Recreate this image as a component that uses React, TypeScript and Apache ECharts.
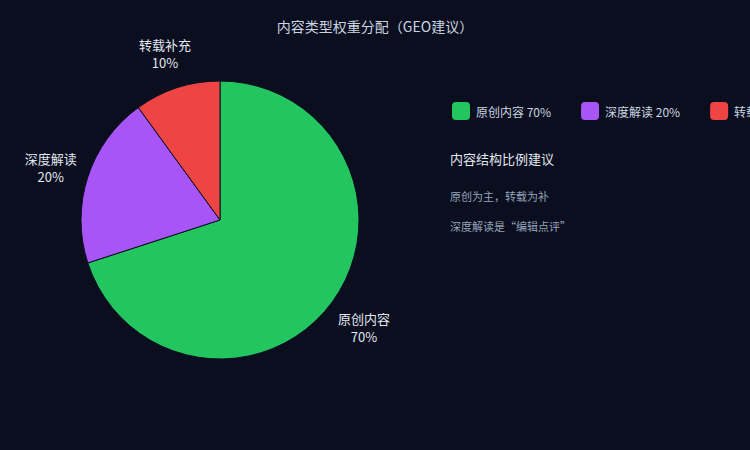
import { useEffect, useRef } from "react";
import * as echarts from "echarts";

const categories = ["原创内容", "深度解读", "转载补充"];
const weights = [70, 20, 10];
const colors = ["#22c55e", "#a855f7", "#ef4444"];
const notes = ["原创为主，转载为补", "深度解读是“编辑点评”"];

const BG = "#0a0e1f";
const FONT = "'Noto Sans CJK SC', 'Noto Sans', sans-serif";
const CX = 220;
const CY = 220;
const RADIUS = 139;
const LABEL_R = 178;

// centre of each slice's label, from the cumulative weights (clockwise from 12 o'clock)
function labelPos(index: number) {
  const total = weights.reduce((a, b) => a + b, 0);
  const before = weights.slice(0, index).reduce((a, b) => a + b, 0);
  const mid = ((before + weights[index] / 2) / total) * Math.PI * 2;
  return {
    x: CX + LABEL_R * Math.sin(mid),
    y: CY - LABEL_R * Math.cos(mid) + 3,
  };
}

export default function App() {
  const ref = useRef<HTMLDivElement>(null);

  useEffect(() => {
    if (!ref.current) return;
    const chart = echarts.init(ref.current, undefined, { renderer: "svg" });

    chart.setOption({
      animation: false,
      backgroundColor: BG,
      textStyle: { fontFamily: FONT },
      title: {
        text: "内容类型权重分配（GEO建议）",
        left: "center",
        top: 14,
        textStyle: { color: "#cbd5e1", fontSize: 14, fontWeight: "normal", fontFamily: FONT },
      },
      legend: {
        left: 450,
        top: 100,
        width: 600,
        padding: 0,
        icon: "roundRect",
        itemWidth: 20,
        itemHeight: 20,
        itemGap: 28,
        textStyle: { color: "#cbd5e1", fontSize: 12, fontFamily: FONT },
        formatter: (name: string) => {
          const i = categories.indexOf(name);
          return `${name} ${weights[i]}%`;
        },
      },
      graphic: [
        {
          type: "text",
          left: 450,
          top: 152,
          style: { text: "内容结构比例建议", fill: "#e2e8f0", font: `13px ${FONT}` },
        },
        ...notes.map((t, i) => ({
          type: "text",
          left: 450,
          top: 190 + i * 30,
          style: { text: t, fill: "#94a3b8", font: `11px ${FONT}` },
        })),
      ],
      series: [
        {
          type: "pie",
          center: [CX, CY],
          radius: RADIUS,
          startAngle: 90,
          itemStyle: { borderColor: BG, borderWidth: 1 },
          label: {
            show: true,
            position: "outside",
            formatter: "{b}\n{c}%",
            color: "#e2e8f0",
            fontSize: 13,
            lineHeight: 18,
            overflow: "none",
            fontFamily: FONT,
          },
          labelLine: { show: false },
          labelLayout: (params: { dataIndex: number }) => {
            const p = labelPos(params.dataIndex);
            return { x: p.x, y: p.y, align: "center", verticalAlign: "middle" };
          },
          data: categories.map((name, i) => ({
            name,
            value: weights[i],
            itemStyle: { color: colors[i] },
          })),
        },
      ],
    });

    return () => chart.dispose();
  }, []);

  return (
    <div
      ref={ref}
      style={{ width: 750, height: 450, position: "absolute", left: 0, top: 0 }}
    />
  );
}
